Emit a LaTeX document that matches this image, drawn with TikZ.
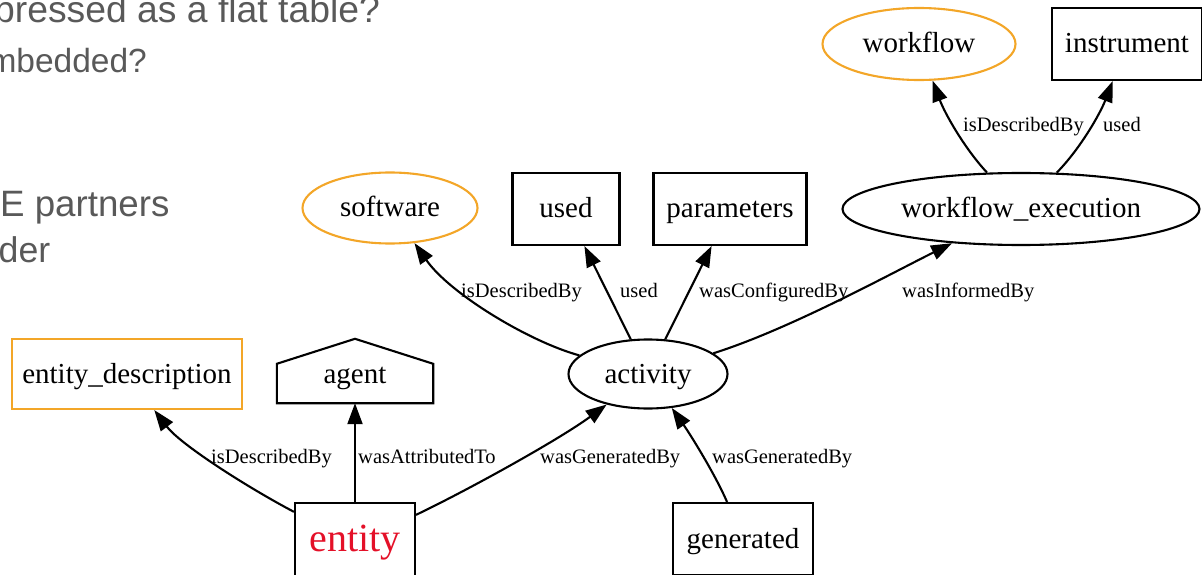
\documentclass[tikz,border=0pt]{standalone}
\usepackage{fontspec}
\setmainfont{Liberation Serif}
\newfontfamily\slidefont{Liberation Sans}
\usetikzlibrary{arrows.meta,shapes.geometric}
\definecolor{gvorange}{RGB}{243,166,40}
\definecolor{gvred}{RGB}{228,16,40}
\definecolor{slidegray}{RGB}{89,89,89}
\begin{document}
\begin{tikzpicture}[x=1pt,y=1pt,
  nodefont/.style={font=\fontsize{29}{31}\selectfont, text height=22pt, text depth=4pt},
  boxnode/.style={draw, line width=2.1pt, rectangle, inner sep=0pt, nodefont},
  ellnode/.style={draw, line width=2.1pt, ellipse, inner sep=0pt, nodefont},
  descnode/.style={draw=gvorange},
  gvedge/.style={line width=2.1pt, -{Triangle[length=21pt,width=15pt]}},
  lab/.style={font=\fontsize{20.5}{22}\selectfont, inner sep=0pt, anchor=base west},
  slidetext/.style={font=\slidefont, text=slidegray, inner sep=0pt, anchor=base west}
]
\useasboundingbox (0,0) rectangle (1202,574);
\clip (0,0) rectangle (1202,574);

% slide text behind
\node[slidetext, font=\slidefont\fontsize{37.3}{40}\selectfont] (s1) at (-6,551) {pressed as a flat table?};
\node[slidetext, font=\slidefont\fontsize{33.5}{40}\selectfont] (s2) at (-11.7,501) {mbedded?};
\node[slidetext, font=\slidefont\fontsize{36.7}{40}\selectfont] (s3) at (0,357) {E partners};
\node[slidetext, font=\slidefont\fontsize{35.7}{40}\selectfont] (s4) at (-1.5,312) {der};

% nodes
\node[boxnode, descnode, minimum width=230pt, minimum height=70pt] (ed) at (127,200) {entity\_description};
\node[nodefont, text height=26pt, text depth=2pt, inner sep=0pt, minimum width=156pt, minimum height=64pt] (agent) at (355,203) {agent};
\draw[line width=2.1pt] (agent.south west) -- (agent.south east) -- ([yshift=-25pt]agent.north east) -- (agent.north) -- ([yshift=-25pt]agent.north west) -- cycle;
\node[boxnode, minimum width=120pt, minimum height=82pt, text=gvred, font=\fontsize{40}{42}\selectfont, text height=26pt, text depth=12pt] (entity) at (355,30) {entity};
\node[boxnode, minimum width=140pt, minimum height=72pt, text height=22pt, text depth=4pt] (generated) at (743,35) {generated};
\node[ellnode, minimum width=159pt, minimum height=69pt] (activity) at (648,200) {activity};
\node[ellnode, descnode, minimum width=175pt, minimum height=71pt] (software) at (390,366) {software};
\node[boxnode, minimum width=107pt, minimum height=72pt] (used) at (566,365) {used};
\node[boxnode, minimum width=153pt, minimum height=72pt] (parameters) at (730,365) {parameters};
\node[ellnode, minimum width=357pt, minimum height=72pt] (wfe) at (1021,365) {workflow\_execution};
\node[ellnode, descnode, minimum width=193pt, minimum height=72pt] (workflow) at (919,530) {workflow};
\node[boxnode, minimum width=150pt, minimum height=72pt] (instrument) at (1127,530) {instrument};

% edges
\draw[gvedge] (entity) .. controls (245,88) and (180,130) .. (ed);
\draw[gvedge] (entity) -- (agent);
\draw[gvedge] (entity) .. controls (470,85) and (560,135) .. (activity);
\draw[gvedge] (generated) .. controls (715,100) and (690,140) .. (activity);
\draw[gvedge] (activity) .. controls (530,232) and (450,280) .. (software);
\draw[gvedge] (activity) -- (used);
\draw[gvedge] (activity) -- (parameters);
\draw[gvedge] (activity) .. controls (790,245) and (890,300) .. (wfe);
\draw[gvedge] (wfe) .. controls (965,425) and (945,460) .. (workflow);
\draw[gvedge] (wfe) .. controls (1080,425) and (1100,460) .. (instrument);

% edge labels
\node[lab] (l1) at (211,111) {isDescribedBy};
\node[lab] (l2) at (358,111) {wasAttributedTo};
\node[lab] (l3) at (540,111) {wasGeneratedBy};
\node[lab] (l4) at (712,111) {wasGeneratedBy};
\node[lab] (l5) at (461,277) {isDescribedBy};
\node[lab] (l6) at (620,277) {used};
\node[lab] (l7) at (699,277) {wasConfiguredBy};
\node[lab] (l8) at (902,277) {wasInformedBy};
\node[lab] (l9) at (963,442) {isDescribedBy};
\node[lab] (l10) at (1103,442) {used};
\end{tikzpicture}
\end{document}
